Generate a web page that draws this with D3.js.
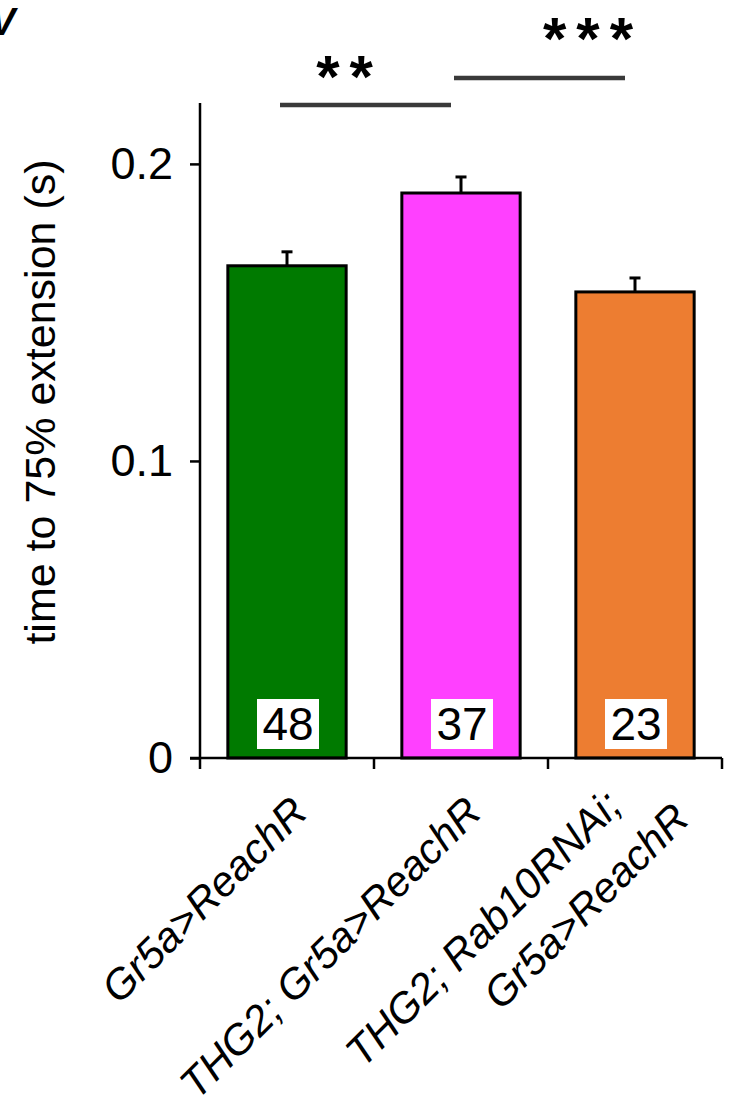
<!DOCTYPE html>
<html><head><meta charset="utf-8">
<script src="https://cdn.jsdelivr.net/npm/d3@7"></script>
<style>body{margin:0;background:#fff}svg{display:block}text{font-family:"Liberation Sans",Arial,sans-serif}</style>
</head><body>
<svg id="c" width="742" height="1099"></svg>
<script>
const categories = ["Gr5a>ReachR", "THG2; Gr5a>ReachR", "THG2; Rab10RNAi;|Gr5a>ReachR"];
const means = [0.1657, 0.1902, 0.1569];
const errors = [0.0047, 0.0054, 0.0047];
const counts = [48, 37, 23];
const colors = ["#007a00", "#ff40ff", "#ed7d31"];
const yTicks = [0, 0.1, 0.2];
const yTickLabels = ["0", "0.1", "0.2"];
const sigPairs = [[0, 1, "**", 0.2198, 0.2225], [1, 2, "***", 0.2289, 0.2353]];

const svg = d3.select("#c");
const x0 = 200, x1 = 722, yBase = 758;
const x = d3.scaleBand().domain(d3.range(categories.length)).range([x0, x1]).paddingInner(0.32).paddingOuter(0.16);
const y = d3.scaleLinear().domain([0, 0.2205]).range([yBase, 103]);
const cxOf = i => x(i) + x.bandwidth() / 2;

// panel letter
svg.append("text").attr("x", -10).attr("y", 35).attr("font-size", 38).attr("font-weight", "bold").attr("font-style", "italic").text("V");

// bars
const g = svg.append("g");
g.selectAll("rect.bar").data(means).join("rect").attr("class", "bar")
  .attr("x", (d, i) => x(i)).attr("width", x.bandwidth())
  .attr("y", d => y(d)).attr("height", d => yBase - y(d))
  .attr("fill", (d, i) => colors[i]).attr("stroke", "#000").attr("stroke-width", 3);

// error bars and n boxes
means.forEach((m, i) => {
  const cx = cxOf(i);
  g.append("line").attr("x1", cx).attr("x2", cx).attr("y1", y(m)).attr("y2", y(m + errors[i])).attr("stroke", "#000").attr("stroke-width", 3);
  g.append("line").attr("x1", cx - 5.5).attr("x2", cx + 5.5).attr("y1", y(m + errors[i])).attr("y2", y(m + errors[i])).attr("stroke", "#000").attr("stroke-width", 3);
  g.append("rect").attr("x", cx - 30).attr("y", 699).attr("width", 62).attr("height", 50).attr("fill", "#fff");
  g.append("text").attr("x", cx + 1).attr("y", 740).attr("text-anchor", "middle").attr("font-size", 46).text(counts[i]);
});

// y axis
const yAxis = d3.axisLeft(y).tickValues(yTicks).tickFormat((d, i) => yTickLabels[i]).tickSize(10).tickPadding(17);
const ya = svg.append("g").attr("transform", `translate(${x0},0)`).call(yAxis);
ya.select(".domain").attr("d", `M0,103V${yBase}`).attr("stroke-width", 2.5);
ya.selectAll(".tick line").attr("stroke-width", 2.5);
ya.selectAll(".tick text").attr("font-size", 45).attr("font-family", "Liberation Sans, Arial, sans-serif").attr("fill", "#000");

// x axis
const xa = svg.append("g").attr("transform", `translate(0,${yBase})`);
xa.append("line").attr("x1", x0 - 10).attr("x2", x1).attr("y1", 0).attr("y2", 0).attr("stroke", "#000").attr("stroke-width", 2.5);
const tickXs = d3.range(categories.length + 1).map(i => i < categories.length ? x(i) - x.step() * x.paddingInner() / 2 : x1);
tickXs[0] = x0;
tickXs.forEach(t => xa.append("line").attr("x1", t).attr("x2", t).attr("y1", 0).attr("y2", 11).attr("stroke", "#000").attr("stroke-width", 2.5));

// x labels (rotated -45)
categories.forEach((c, i) => {
  const lines = c.split("|");
  const n = lines.length;
  const gl = svg.append("g").attr("transform", `translate(${cxOf(i)},${yBase}) rotate(-45)`);
  lines.forEach((l, k) => {
    const o = k - (n - 1) / 2;
    gl.append("text").attr("x", -24 + o * 39).attr("y", 56 + o * 57)
      .attr("text-anchor", "end").attr("font-size", 42).attr("font-style", "italic").text(l);
  });
});

// y label
svg.append("text").attr("transform", `translate(55,402) rotate(-90)`).attr("text-anchor", "middle").attr("font-size", 43).text("time to 75% extension (s)");

// significance
const starOffsets = [-29.5, 40];
sigPairs.forEach(([a, b, s, v, vt], k) => {
  const yy = y(v);
  svg.append("line").attr("x1", cxOf(a) - 7).attr("x2", cxOf(b) - 10).attr("y1", yy).attr("y2", yy).attr("stroke", "#3a3a3a").attr("stroke-width", 4.5);
  svg.append("text").attr("x", (cxOf(a) + cxOf(b)) / 2 + starOffsets[k] + 5).attr("y", y(vt))
    .attr("text-anchor", "middle").attr("font-size", 60).attr("font-weight", "bold").attr("letter-spacing", 10).text(s);
});
</script>
</body></html>
